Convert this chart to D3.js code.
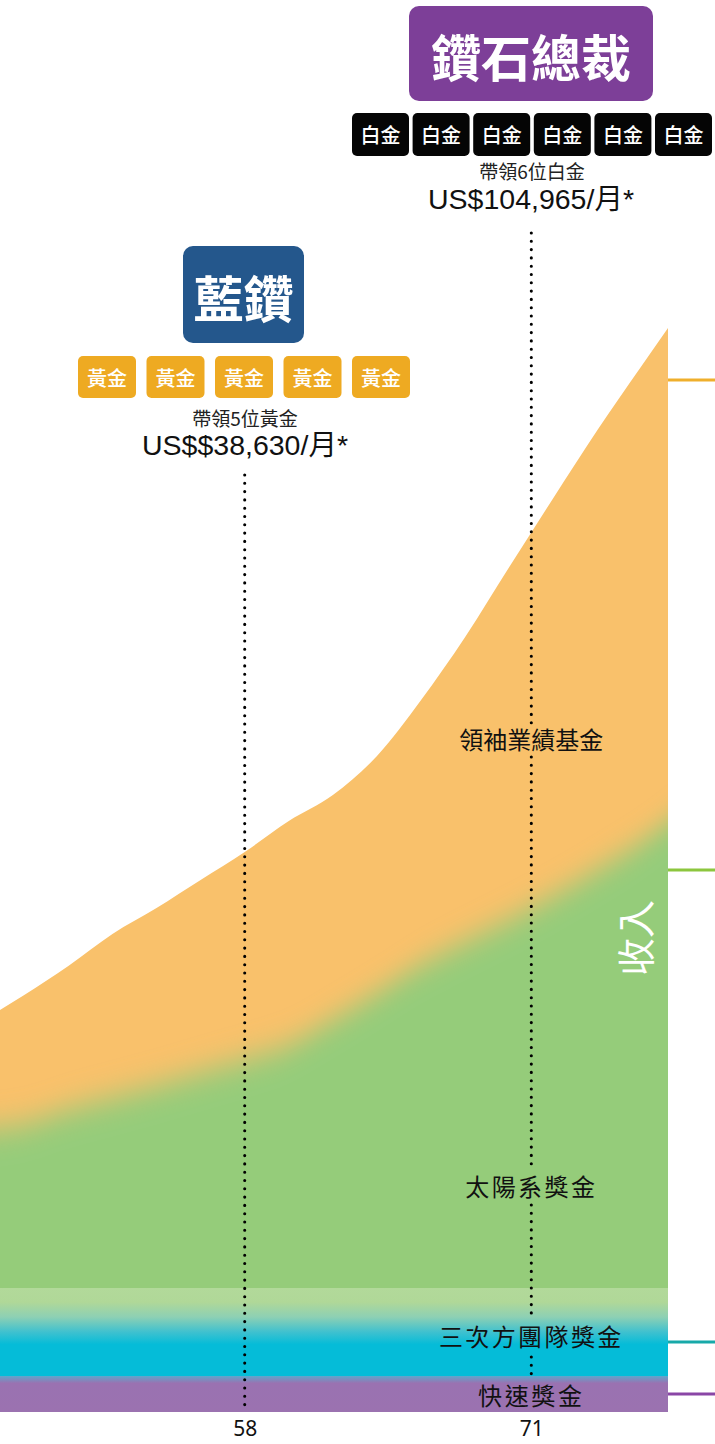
<!DOCTYPE html>
<html><head><meta charset="utf-8">
<script src="https://cdn.jsdelivr.net/npm/d3@7/dist/d3.min.js"></script>
<style>
html,body{margin:0;padding:0;background:#fff;}
svg{display:block;}
</style></head>
<body>
<svg id="c" width="715" height="1444"></svg>
<script>
// ---- data ----
const levels      = [46.9, 48, 50, 52, 54, 56, 58, 60, 62, 64, 66, 68, 70, 72, 74, 76, 77.2];
const fastBonus   = [36, 36, 36, 36, 36, 36, 36, 36, 36, 36, 36, 36, 36, 36, 36, 36, 36];
const teamBonus   = [88, 88, 88, 88, 88, 88, 88, 88, 88, 88, 88, 88, 88, 88, 88, 88, 88];
const solarBonus  = [160, 164, 178, 190, 202, 215, 228, 243, 268, 295, 323, 346, 368, 392, 418, 446, 466];
const leaderFund  = [118, 129, 144, 164, 178, 193, 208, 224, 225, 237, 265, 305, 353, 398, 440, 476, 494];
const seriesNames = ["快速獎金", "三次方團隊獎金", "太陽系獎金", "領袖業績基金"];
const xTicks      = [58, 71];
const yDomain     = [0, 1100];

// ---- setup ----
const svg = d3.select("#c");
const W = 668, plotTop = 312, plotBottom = 1412;
const x = d3.scaleLinear().domain([levels[0], levels[levels.length-1]]).range([0, W]);
const y = d3.scaleLinear().domain(yDomain).range([plotBottom, plotTop]);

const rows = levels.map((l, i) => ({
  level: l,
  "快速獎金": fastBonus[i],
  "三次方團隊獎金": teamBonus[i],
  "太陽系獎金": solarBonus[i],
  "領袖業績基金": leaderFund[i]
}));
const stacked = d3.stack().keys(seriesNames)(rows);

const area = d3.area()
  .x(d => x(d.data.level))
  .y0(d => y(d[0]))
  .y1(d => y(d[1]))
  .curve(d3.curveMonotoneX);
const areaFromZero = d3.area()
  .x(d => x(d.data.level))
  .y0(y(0))
  .y1(d => y(d[1]))
  .curve(d3.curveMonotoneX);

const defs = svg.append("defs");
defs.append("clipPath").attr("id", "plotClip")
  .append("rect").attr("x", 0).attr("y", 0).attr("width", W).attr("height", plotBottom);
const blur = defs.append("filter").attr("id", "vblur")
  .attr("x", "-5%").attr("y", "-20%").attr("width", "110%").attr("height", "140%");
blur.append("feGaussianBlur").attr("stdDeviation", "0 16");

const teamGrad = defs.append("linearGradient").attr("id", "teamGrad")
  .attr("gradientUnits", "userSpaceOnUse")
  .attr("x1", 0).attr("x2", 0)
  .attr("y1", y(fastBonus[0] + teamBonus[0])).attr("y2", y(fastBonus[0]));
[[0, "#b2d99a"], [0.16, "#b0d898"], [0.33, "#8dd0b4"], [0.5, "#3fc1cf"], [0.64, "#05bcd8"], [1, "#05bcd8"]]
  .forEach(s => teamGrad.append("stop").attr("offset", s[0]).attr("stop-color", s[1]));
const fastGrad = defs.append("linearGradient").attr("id", "fastGrad")
  .attr("gradientUnits", "userSpaceOnUse")
  .attr("x1", 0).attr("x2", 0)
  .attr("y1", y(fastBonus[0])).attr("y2", y(0));
[[0, "#5fa6cc"], [0.2, "#9a72b1"], [1, "#9b72b0"]]
  .forEach(s => fastGrad.append("stop").attr("offset", s[0]).attr("stop-color", s[1]));

const plot = svg.append("g").attr("clip-path", "url(#plotClip)");
plot.append("path").datum(stacked[3]).attr("d", areaFromZero).attr("fill", "#f9c16b");
plot.append("path").datum(stacked[2]).attr("d", areaFromZero).attr("fill", "#95cc7a")
  .attr("filter", "url(#vblur)");
plot.append("path").datum(stacked[1]).attr("d", area).attr("fill", "url(#teamGrad)");
plot.append("path").datum(stacked[0]).attr("d", area).attr("fill", "url(#fastGrad)");

// ---- right-side series markers ----
const markers = [
  {y: 380, c: "#efaf2c"},
  {y: 870, c: "#8cc63e"},
  {y: 1342, c: "#17a9a9"},
  {y: 1394, c: "#8a46a6"}
];
svg.selectAll(".mk").data(markers).enter().append("line")
  .attr("x1", W).attr("x2", 715).attr("y1", d => d.y).attr("y2", d => d.y)
  .attr("stroke", d => d.c).attr("stroke-width", 3);

// ---- dotted guide lines ----
const guides = [
  {v: 58, segs: [[475, 1410]]},
  {v: 71, segs: [[233, 724], [757, 1168], [1205, 1314], [1357, 1374]]}
];
guides.forEach(g => {
  g.segs.forEach(s => {
    svg.append("line").attr("x1", x(g.v)).attr("x2", x(g.v))
      .attr("y1", s[0]).attr("y2", s[1])
      .attr("stroke", "#000").attr("stroke-width", 3.1)
      .attr("stroke-linecap", "round").attr("stroke-dasharray", "0 8.3");
  });
});

const cjk = "'Noto Sans CJK TC','Noto Sans CJK SC',sans-serif";
const latin = "'Liberation Sans',Arial,'Noto Sans CJK TC',sans-serif";

// ---- series labels ----
const lab = [
  {t: "領袖業績基金", y: 738, fs: 24, ls: 0},
  {t: "太陽系獎金", y: 1185, fs: 24, ls: 2.4},
  {t: "三次方團隊獎金", y: 1335, fs: 24, ls: 2.4},
  {t: "快速獎金", y: 1394, fs: 24, ls: 2.6}
];
svg.selectAll(".lab").data(lab).enter().append("text")
  .attr("x", x(71)).attr("y", d => d.y)
  .attr("text-anchor", "middle").attr("dominant-baseline", "central")
  .attr("font-family", cjk).attr("font-size", d => d.fs)
  .attr("letter-spacing", d => d.ls)
  .attr("fill", "#111").text(d => d.t);

svg.append("text").attr("transform", "translate(633,938) rotate(-90)")
  .attr("text-anchor", "middle").attr("dominant-baseline", "central")
  .attr("font-family", cjk).attr("font-size", 38).attr("fill", "#fff").text("收入");

// ---- x axis ----
const ax = svg.append("g").attr("transform", `translate(0,${plotBottom})`)
  .call(d3.axisBottom(x).tickValues(xTicks).tickSize(0).tickPadding(9).tickFormat(d3.format("d")));
ax.select(".domain").remove();
ax.selectAll("text").attr("font-size", 21).attr("font-family", "'Noto Sans','Open Sans',sans-serif")
  .attr("fill", "#111").attr("dy", "0.71em");

// ---- badges ----
function rank(cx, cy, w, h, color, label) {
  svg.append("rect").attr("x", cx - w/2).attr("y", cy - h/2).attr("width", w).attr("height", h)
    .attr("rx", 10).attr("fill", color);
  svg.append("text").attr("x", cx).attr("y", cy + 1).attr("text-anchor", "middle")
    .attr("dominant-baseline", "central").attr("font-family", cjk).attr("font-weight", 700)
    .attr("font-size", 50).attr("fill", "#fff").text(label);
}
function chips(cx, cy, n, w, h, step, color, label) {
  for (let i = 0; i < n; i++) {
    const c = cx + (i - (n - 1)/2) * step;
    svg.append("rect").attr("x", c - w/2).attr("y", cy - h/2).attr("width", w).attr("height", h)
      .attr("rx", 5).attr("fill", color);
    svg.append("text").attr("x", c).attr("y", cy).attr("text-anchor", "middle")
      .attr("dominant-baseline", "central").attr("font-family", cjk).attr("font-weight", 500)
      .attr("font-size", 20).attr("fill", "#fff").text(label);
  }
}
rank(531, 53.5, 244, 95, "#7d3f98", "鑽石總裁");
chips(532, 134.5, 6, 57, 43, 60.6, "#050505", "白金");
svg.append("text").attr("x", 532).attr("y", 178.5).attr("text-anchor", "middle")
  .attr("font-family", cjk).attr("font-size", 19).attr("fill", "#222").text("帶領6位白金");
svg.append("text").attr("x", 531).attr("y", 209).attr("text-anchor", "middle")
  .attr("font-family", latin).attr("font-size", 28.5).attr("fill", "#111").text("US$104,965/月*");

rank(243.5, 294.5, 121, 97, "#24578c", "藍鑽");
chips(244, 377, 5, 58, 42, 68.5, "#eeaa22", "黃金");
svg.append("text").attr("x", 245).attr("y", 425.5).attr("text-anchor", "middle")
  .attr("font-family", cjk).attr("font-size", 19).attr("fill", "#222").text("帶領5位黃金");
svg.append("text").attr("x", 245).attr("y", 455).attr("text-anchor", "middle")
  .attr("font-family", latin).attr("font-size", 28.5).attr("fill", "#111").text("US$$38,630/月*");
</script>
</body></html>
